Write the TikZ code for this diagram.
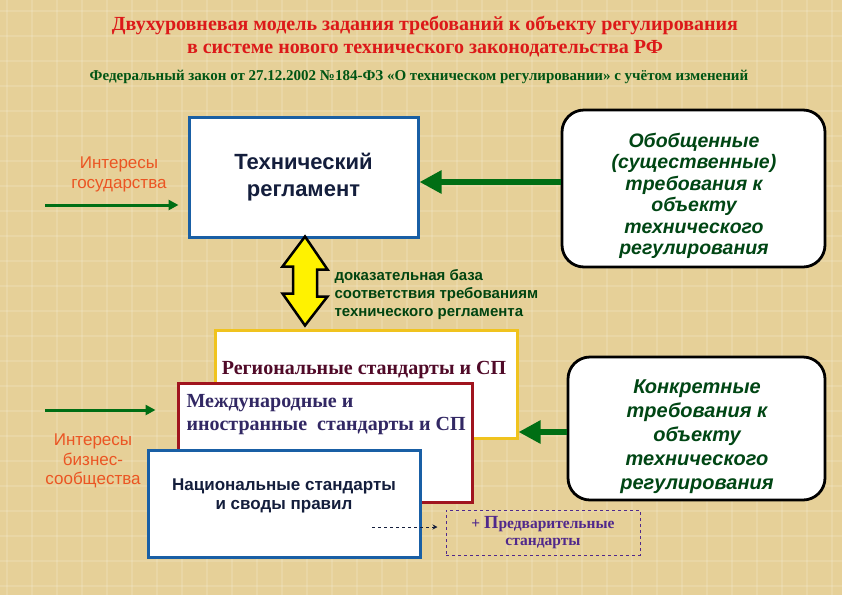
\documentclass[tikz,border=0pt]{standalone}
\usepackage{fontspec}
\setmainfont{Liberation Serif}
\setsansfont{Liberation Sans}
\usetikzlibrary{arrows.meta,calc}
\definecolor{bg}{RGB}{230,208,152}
\definecolor{titlered}{RGB}{220,25,25}
\definecolor{lawgreen}{RGB}{0,85,20}
\definecolor{intorange}{RGB}{235,85,35}
\definecolor{boxblue}{RGB}{25,95,165}
\definecolor{navytext}{RGB}{20,30,60}
\definecolor{gentext}{RGB}{0,70,20}
\definecolor{gold}{RGB}{240,195,30}
\definecolor{maroon}{RGB}{160,20,30}
\definecolor{regtext}{RGB}{80,10,40}
\definecolor{intltext}{RGB}{50,40,100}
\definecolor{prepurple}{RGB}{80,40,140}
\definecolor{arrgreen}{RGB}{0,110,20}
\tikzset{
  box/.style={draw, fill=white, line width=3pt, inner sep=0pt},
  roundbox/.style={draw=black, fill=white, line width=2.8pt, rounded corners=22pt, inner sep=0pt},
  bigarrow/.style={draw=arrgreen, line width=6pt, -{Triangle[length=22pt,width=22pt]}},
  thinarrow/.style={draw=arrgreen, line width=3pt, -{Triangle[length=10pt,width=10pt]}},
  boxtext/.style={font=\sffamily\bfseries\itshape\fontsize{19.5}{21.5}\selectfont, text=gentext, align=center},
  inttext/.style={font=\sffamily\fontsize{17}{20}\selectfont, text=intorange, align=center},
  texture/.style={draw=white, opacity=0.13, line width=2pt},
}
\begin{document}
\begin{tikzpicture}[x=1pt,y=-1pt]
\fill[bg] (0,0) rectangle (842,595);
\useasboundingbox (0,0) rectangle (842,595);
\foreach \i in {0,...,34} {\draw[texture] (\i*25+7,0) -- (\i*25+7,595);}
\foreach \i in {0,...,24} {\draw[texture] (0,\i*25+11) -- (842,\i*25+11);}
% titles
\node[font=\bfseries\fontsize{20}{22}\selectfont, text=titlered] (t1) at (425,25) {Двухуровневая модель задания требований к объекту регулирования};
\node[font=\bfseries\fontsize{20}{22}\selectfont, text=titlered] (t2) at (425,49) {в системе нового технического законодательства РФ};
\node[font=\bfseries\fontsize{15}{16}\selectfont, text=lawgreen] (t3) at (419,77) {Федеральный закон от 27.12.2002 №184-ФЗ «О техническом регулировании» с учётом изменений};
% technical regulation
\node[box, draw=boxblue, minimum width=229pt, minimum height=120pt, font=\sffamily\bfseries\fontsize{22}{27}\selectfont, text=navytext, align=center] (tech) at (303.5,177) {Технический\\регламент};
\node[roundbox, minimum width=263pt, minimum height=157pt] (gen) at (693.5,188.5) {};
\node[boxtext] (gentxt) at (694,196) {Обобщенные\\(существенные)\\требования к\\объекту\\технического\\регулирования};
\node[inttext] (stint) at (119,174) {Интересы\\государства};
% lower boxes
\node[box, draw=gold, minimum width=302pt, minimum height=108pt] (reg) at (366,384) {};
\node[font=\bfseries\fontsize{20}{22}\selectfont, text=regtext, anchor=center] (regtxt) at (364,370) {Региональные стандарты и СП};
\node[box, draw=maroon, minimum width=294pt, minimum height=119pt] (intl) at (325,442.5) {};
\node[font=\bfseries\fontsize{20}{23}\selectfont, text=intltext, align=left, anchor=north west] (intltxt) at (183,391) {Международные и\\иностранные\ \ стандарты и СП};
\node[box, draw=boxblue, minimum width=272pt, minimum height=107pt] (nat) at (284,503.5) {};
\node[font=\sffamily\bfseries\fontsize{17}{19.5}\selectfont, text=navytext, align=center] (nattxt) at (284,496) {Национальные стандарты\\и своды правил};
\node[roundbox, minimum width=257pt, minimum height=143pt] (conc) at (696.5,428.5) {};
\node[boxtext, font=\sffamily\bfseries\itshape\fontsize{20}{24}\selectfont] (conctxt) at (697,437) {Конкретные\\требования к\\объекту\\технического\\регулирования};
\node[inttext, font=\sffamily\fontsize{17}{19.5}\selectfont] (bizint) at (93,461) {Интересы\\бизнес-\\сообщества};
\node[draw=prepurple, dashed, line width=1pt, minimum width=194pt, minimum height=45pt, inner sep=0pt] (pre) at (543,532.5) {};
\node[font=\bfseries\fontsize{15.5}{17}\selectfont, text=prepurple, align=center] (pretxt) at (543,532.5) {+ {\fontsize{18.5}{17}\selectfont П}редварительные\\стандарты};
% proof text
\node[font=\sffamily\bfseries\fontsize{15}{18}\selectfont, text=lawgreen!80!black, align=left, anchor=west] (proof) at (331,295) {доказательная база\\соответствия требованиям\\технического регламента};
% double arrow
\coordinate (da) at (305,0);
\draw[fill=yellow, draw=black, line width=2.5pt, line join=miter]
  ($(tech.south -| da)+(0,-2)$) -- ++(22.5,33) -- ++(-10.5,0) -- ++(0,27) -- ++(10.5,0)
  -- ($(reg.north -| da)+(0,-3)$) -- ++(-22.5,-32) -- ++(10.5,0) -- ++(0,-27) -- ++(-10.5,0) -- cycle;
% arrows
\coordinate (y1) at (0,182);
\draw[bigarrow] (gen.west |- y1) -- (tech.east |- y1);
\coordinate (y2) at (0,432);
\draw[bigarrow] (conc.west |- y2) -- (reg.east |- y2);
\coordinate (s1) at (45,205);
\draw[thinarrow, shorten >=9pt] (s1) -- (tech.west |- s1);
\coordinate (s2) at (45,410);
\draw[thinarrow, shorten >=21pt] (s2) -- (intl.west |- s2);
\coordinate (d1) at (372,527);
\draw[draw=navytext, dashed, line width=1pt, -{Stealth[length=5pt,width=5pt]}, shorten >=8pt] (d1) -- (pre.west |- d1);
\end{tikzpicture}
\end{document}
